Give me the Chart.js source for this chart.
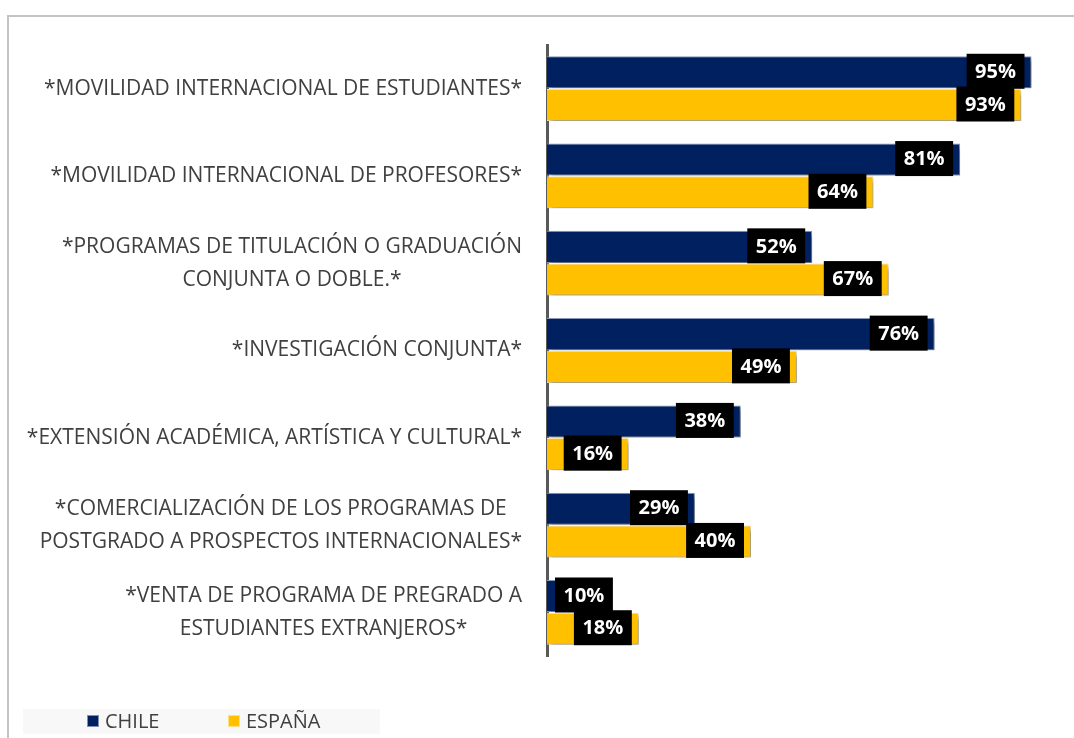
<!DOCTYPE html>
<html>
<head>
<meta charset="utf-8">
<script src="https://cdn.jsdelivr.net/npm/chart.js@4"></script>
<style>
  html, body { margin: 0; padding: 0; background: #fff; }
  #wrap { position: relative; width: 1074px; height: 738px; overflow: hidden; }
  #frame { position: absolute; left: 7px; top: 15px; width: 1200px; height: 800px;
           border-left: 2px solid #c4c4c4; border-top: 2px solid #c4c4c4; }
  #chart { position: absolute; left: 0; top: 0; }
</style>
</head>
<body>
<div id="wrap">
  <div id="frame"></div>
  <canvas id="chart" width="1074" height="738"></canvas>
</div>
<script>
document.addEventListener('DOMContentLoaded', () => {
    // Categories (multi-line labels as arrays)
    const categories = [
        ['*MOVILIDAD INTERNACIONAL DE ESTUDIANTES*'],
        ['*MOVILIDAD INTERNACIONAL DE PROFESORES*'],
        ['*PROGRAMAS DE TITULACIÓN O GRADUACIÓN', 'CONJUNTA O DOBLE.*'],
        ['*INVESTIGACIÓN CONJUNTA*'],
        ['*EXTENSIÓN ACADÉMICA, ARTÍSTICA Y CULTURAL*'],
        ['*COMERCIALIZACIÓN DE LOS PROGRAMAS DE', 'POSTGRADO A PROSPECTOS INTERNACIONALES*'],
        ['*VENTA DE PROGRAMA DE PREGRADO A', 'ESTUDIANTES EXTRANJEROS*']
    ];

    // Percent values per country
    const chileValues = [95, 81, 52, 76, 38, 29, 10];
    const espanaValues = [93, 64, 67, 49, 16, 40, 18];

    const seriesNames = ['CHILE', 'ESPAÑA'];
    const seriesColors = ['#002060', '#FFC000'];

    const textColor = '#404040';
    const labelFont = '"Open Sans", "Liberation Sans", sans-serif';

    // Soft drop shadow under the bars
    const barShadow = {
        id: 'barShadow',
        beforeDatasetsDraw(chart) {
            const ctx = chart.ctx;
            ctx.save();
            ctx.shadowColor = 'rgba(0, 0, 0, 0.38)';
            ctx.shadowBlur = 5;
            ctx.shadowOffsetX = 3;
            ctx.shadowOffsetY = 3;
        },
        afterDatasetsDraw(chart) {
            chart.ctx.restore();
        }
    };

    // Category names: each block right-aligned to the axis, its lines centred
    const categoryLabels = {
        id: 'categoryLabels',
        afterDraw(chart) {
            const ctx = chart.ctx;
            const yScale = chart.scales.y;
            const lineGap = 33;
            const rightEdge = yScale.right - 25;
            ctx.save();
            ctx.font = '21px ' + labelFont;
            ctx.fillStyle = textColor;
            ctx.textAlign = 'center';
            ctx.textBaseline = 'middle';
            chart.data.labels.forEach((lines, i) => {
                const widest = Math.max(...lines.map(l => ctx.measureText(l).width));
                const cx = rightEdge - widest / 2;
                const cy = yScale.getPixelForTick(i);
                const top = cy - (lines.length - 1) * lineGap / 2;
                lines.forEach((l, k) => ctx.fillText(l, cx, top + k * lineGap));
            });
            ctx.restore();
        }
    };

    // Black value boxes at the end of each bar
    const valueBoxes = {
        id: 'valueBoxes',
        afterDatasetsDraw(chart) {
            const ctx = chart.ctx;
            const axisX = chart.scales.x.getPixelForValue(0);
            ctx.save();
            ctx.font = 'bold 20px ' + labelFont;
            ctx.textAlign = 'center';
            ctx.textBaseline = 'middle';
            chart.data.datasets.forEach((ds, di) => {
                const meta = chart.getDatasetMeta(di);
                meta.data.forEach((bar, i) => {
                    const text = ds.data[i] + '%';
                    const w = ctx.measureText(text).width + 17;
                    const h = 35;
                    let right = bar.x - 7;
                    if (right - w < axisX + 8) right = axisX + 8 + w;
                    const top = bar.y - h / 2 - 1;
                    ctx.fillStyle = '#000';
                    ctx.fillRect(right - w, top, w, h);
                    ctx.fillStyle = '#fff';
                    ctx.fillText(text, right - w / 2, top + h / 2 + 1);
                });
            });
            ctx.restore();
        }
    };

    // Legend strip along the bottom
    const bottomLegend = {
        id: 'bottomLegend',
        afterDraw(chart) {
            const ctx = chart.ctx;
            ctx.save();
            ctx.fillStyle = '#f8f8f8';
            ctx.fillRect(23, 709, 357, 25);
            ctx.font = '20px ' + labelFont;
            ctx.textBaseline = 'middle';
            let x = 87;
            chart.data.datasets.forEach((ds) => {
                ctx.fillStyle = ds.backgroundColor;
                ctx.fillRect(x, 715, 12, 12);
                ctx.strokeStyle = 'rgba(255,255,255,0.5)';
                ctx.lineWidth = 1;
                ctx.strokeRect(x + 0.5, 715.5, 11, 11);
                ctx.fillStyle = textColor;
                ctx.fillText(ds.label, x + 18, 722);
                x += 141;
            });
            ctx.restore();
        }
    };

    const ctx = document.getElementById('chart').getContext('2d');
    new Chart(ctx, {
        type: 'bar',
        data: {
            labels: categories,
            datasets: [
                {
                    label: seriesNames[0],
                    data: chileValues,
                    backgroundColor: seriesColors[0],
                    borderColor: '#8e9cc0',
                    borderWidth: 1
                },
                {
                    label: seriesNames[1],
                    data: espanaValues,
                    backgroundColor: seriesColors[1],
                    borderColor: '#fbe6a8',
                    borderWidth: 1
                }
            ]
        },
        options: {
            indexAxis: 'y',
            responsive: false,
            animation: false,
            categoryPercentage: 0.75,
            barPercentage: 0.98,
            layout: {
                padding: { top: 45, right: 17, bottom: 82, left: 0 }
            },
            plugins: {
                legend: { display: false },
                tooltip: { enabled: false }
            },
            scales: {
                x: {
                    display: false,
                    min: 0,
                    max: 100
                },
                y: {
                    grid: { display: false, drawTicks: false },
                    border: { display: true, color: '#595959', width: 3 },
                    ticks: { display: false },
                    afterFit(scale) {
                        scale.width = 547;
                    }
                }
            }
        },
        plugins: [barShadow, valueBoxes, categoryLabels, bottomLegend]
    });
});
</script>
</body>
</html>
